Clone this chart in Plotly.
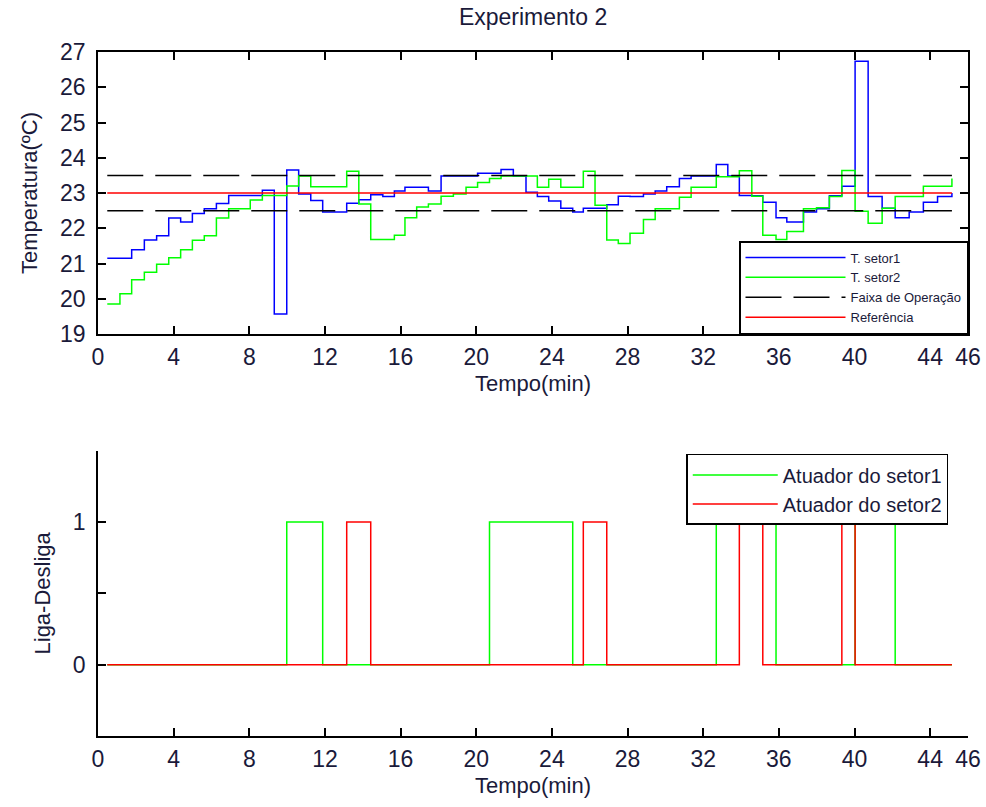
import plotly.graph_objects as go

# ---- data ----
tempo = [0.49, 1.16, 1.78, 2.45, 3.10, 3.74, 4.37, 4.99, 5.62, 6.26,
         6.91, 7.48, 8.05, 8.69, 9.32, 9.98, 10.61, 11.25, 11.88, 12.52,
         13.15, 13.79, 14.42, 15.06, 15.67, 16.23, 16.85, 17.47, 18.14, 18.79,
         19.46, 20.07, 20.70, 21.31, 21.96, 22.63, 23.23, 23.83, 24.47, 25.10,
         25.66, 26.28, 26.90, 27.51, 28.13, 28.84, 29.46, 30.07, 30.74, 31.36,
         32.01, 32.69, 33.30, 33.91, 34.57, 35.15, 35.85, 36.42, 37.30, 37.99,
         38.67, 39.33, 40.03, 40.72, 41.46, 42.15, 42.89, 43.64, 44.39, 45.15]

t_setor1 = [21.15, 21.15, 21.39, 21.67, 21.79, 22.29, 22.18, 22.42, 22.55, 22.70,
            22.93, 22.93, 22.93, 23.08, 19.57, 23.65, 22.97, 22.79, 22.46, 22.46,
            22.71, 22.81, 22.95, 22.90, 23.06, 23.16, 23.16, 23.06, 23.48, 23.48,
            23.48, 23.56, 23.56, 23.67, 23.48, 23.02, 22.90, 22.77, 22.57, 22.46,
            22.57, 22.57, 22.67, 22.91, 22.90, 22.97, 23.06, 23.18, 23.41, 23.48,
            23.48, 23.81, 23.48, 22.93, 22.92, 22.74, 22.30, 22.18, 22.46, 22.55,
            22.92, 23.19, 26.74, 22.90, 22.57, 22.30, 22.46, 22.74, 22.90, 23.00]

t_setor2 = [19.85, 20.14, 20.54, 20.75, 20.98, 21.16, 21.39, 21.66, 21.79, 22.29,
            22.55, 22.55, 22.80, 22.93, 22.93, 23.20, 23.48, 23.18, 23.18, 23.18,
            23.62, 22.69, 21.68, 21.68, 21.80, 22.30, 22.60, 22.69, 22.91, 22.97,
            23.16, 23.30, 23.41, 23.48, 23.48, 23.48, 23.16, 23.39, 23.16, 23.16,
            23.62, 22.65, 21.67, 21.57, 21.86, 22.25, 22.55, 22.55, 22.88, 23.16,
            23.16, 23.46, 23.46, 23.63, 22.91, 21.80, 21.68, 21.91, 22.55, 22.58,
            22.90, 23.64, 22.48, 22.14, 22.57, 22.90, 22.90, 23.19, 23.19, 23.41]

atuador1 = [0, 0, 0, 0, 0, 0, 0, 0, 0, 0,
            0, 0, 0, 0, 0, 1, 1, 1, 0, 0,
            0, 0, 0, 0, 0, 0, 0, 0, 0, 0,
            0, 0, 1, 1, 1, 1, 1, 1, 1, 0,
            0, 0, 0, 0, 0, 0, 0, 0, 0, 0,
            0, 1, 1, 1, 1, 1, 0, 0, 0, 0,
            0, 0, 1, 1, 1, 0, 0, 0, 0, 0]

atuador2 = [0, 0, 0, 0, 0, 0, 0, 0, 0, 0,
            0, 0, 0, 0, 0, 0, 0, 0, 0, 0,
            1, 1, 0, 0, 0, 0, 0, 0, 0, 0,
            0, 0, 0, 0, 0, 0, 0, 0, 0, 0,
            1, 1, 0, 0, 0, 0, 0, 0, 0, 0,
            0, 0, 0, 1, 1, 0, 0, 0, 0, 0,
            0, 1, 0, 0, 0, 0, 0, 0, 0, 0]

faixa_operacao = [22.5, 23.5]
referencia = 23.0

x_ticks = [0, 4, 8, 12, 16, 20, 24, 28, 32, 36, 40, 44, 46]
x_ticktext = [str(v) for v in x_ticks]
y1_ticks = [19, 20, 21, 22, 23, 24, 25, 26, 27]
y2_ticks = [-0.5, 0, 0.5, 1, 1.5]
y2_ticktext = ["", "0", "", "1", ""]

FONT = "Liberation Sans, Arial, sans-serif"
TXT = "#1a1a3a"
BLUE, GREEN, RED, BLACK = "#0000FF", "#00FF00", "#FF0000", "#000000"

t0, tN = tempo[0], tempo[-1]

fig = go.Figure()
fig.add_trace(go.Scatter(x=tempo, y=t_setor1, mode="lines", line=dict(color=BLUE, width=1.5, shape="hv"),
                         name="T. setor1", xaxis="x", yaxis="y", legend="legend"))
fig.add_trace(go.Scatter(x=tempo, y=t_setor2, mode="lines", line=dict(color=GREEN, width=1.5, shape="hv"),
                         name="T. setor2", xaxis="x", yaxis="y", legend="legend"))
fig.add_trace(go.Scatter(x=[t0, tN, None, t0, tN],
                         y=[faixa_operacao[0], faixa_operacao[0], None, faixa_operacao[1], faixa_operacao[1]],
                         mode="lines", line=dict(color=BLACK, width=1.5, dash="36px,12px"),
                         name="Faixa de Operação", xaxis="x", yaxis="y", legend="legend"))
fig.add_trace(go.Scatter(x=[t0, tN], y=[referencia, referencia], mode="lines",
                         line=dict(color=RED, width=1.5), name="Referência",
                         xaxis="x", yaxis="y", legend="legend"))

fig.add_trace(go.Scatter(x=tempo, y=atuador1, mode="lines", line=dict(color=GREEN, width=1.5, shape="hv"),
                         name="Atuador do setor1", xaxis="x2", yaxis="y2", legend="legend2"))
fig.add_trace(go.Scatter(x=tempo, y=atuador2, mode="lines", line=dict(color=RED, width=1.5, shape="hv"),
                         name="Atuador do setor2", xaxis="x2", yaxis="y2", legend="legend2"))

axis_common = dict(showline=True, linecolor=BLACK, linewidth=1.5, ticks="inside", ticklen=8,
                   tickcolor=BLACK, tickwidth=1.5, showgrid=False, zeroline=False, automargin=False,
                   tickfont=dict(family=FONT, size=23, color=TXT))

fig.update_layout(
    width=986, height=807,
    margin=dict(l=98, r=18, t=52, b=71),
    paper_bgcolor="white", plot_bgcolor="white",
    font=dict(family=FONT, size=22, color=TXT),
    title=dict(text="Experimento 2", x=0.5406, xanchor="center", y=0.979, yanchor="middle",
               font=dict(family=FONT, size=23, color=TXT)),
    xaxis=dict(domain=[0, 1], anchor="y", range=[0, 46], tickvals=x_ticks, ticktext=x_ticktext,
               mirror="ticks", ticklabelstandoff=2,
               title=dict(text="Tempo(min)", standoff=6, font=dict(size=22)), **axis_common),
    yaxis=dict(domain=[0.5877, 1.0], anchor="x", range=[19, 27], tickvals=y1_ticks,
               mirror="ticks", ticklabelstandoff=6,
               title=dict(text="Temperatura(ºC)", standoff=16, font=dict(size=22)), **axis_common),
    xaxis2=dict(domain=[0, 1], anchor="y2", range=[0, 46], tickvals=x_ticks, ticktext=x_ticktext,
                ticklabelstandoff=2,
                title=dict(text="Tempo(min)", standoff=6, font=dict(size=22)), **axis_common),
    yaxis2=dict(domain=[0, 0.4171], anchor="x2", range=[-0.5, 1.5], tickvals=y2_ticks, ticktext=y2_ticktext,
                ticklabelstandoff=6,
                title=dict(text="Liga-Desliga", standoff=16, font=dict(size=22)), **axis_common),
    legend=dict(x=1.0, y=0.5877, xanchor="right", yanchor="bottom", bgcolor="white",
                bordercolor=BLACK, borderwidth=1.5, font=dict(family=FONT, size=13, color=TXT),
                itemwidth=100, tracegroupgap=0),
    legend2=dict(x=0.9773, y=0.4123, xanchor="right", yanchor="top", bgcolor="white",
                 bordercolor=BLACK, borderwidth=1.5, font=dict(family=FONT, size=20, color=TXT),
                 itemwidth=85, tracegroupgap=0),
)

fig.write_html("out.html", config={"displayModeBar": False},
               post_script="document.body.style.margin='0px';document.body.style.padding='0px';")
